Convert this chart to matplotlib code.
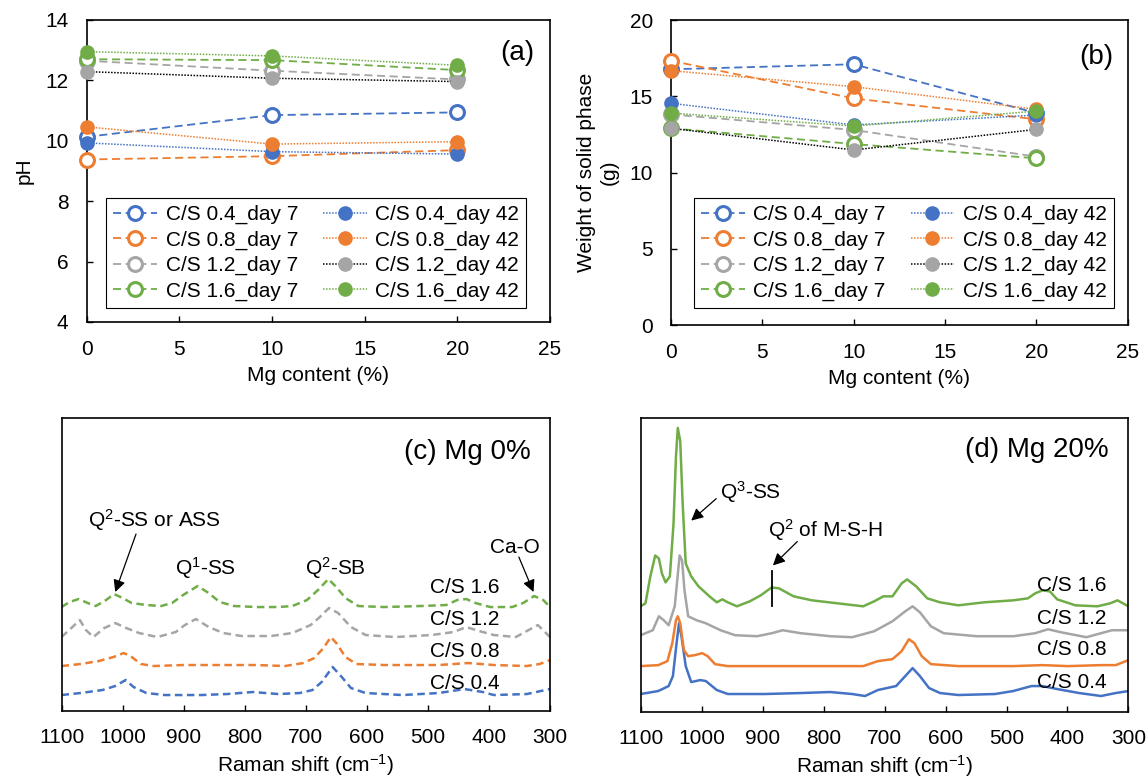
import matplotlib
matplotlib.use("Agg")
import matplotlib.pyplot as plt

plt.rcParams['font.family'] = 'Liberation Sans'
plt.rcParams['mathtext.fontset'] = 'custom'
plt.rcParams['mathtext.rm'] = 'Liberation Sans'
plt.rcParams['mathtext.it'] = 'Liberation Sans:italic'
plt.rcParams['font.size'] = 15
plt.rcParams['axes.linewidth'] = 1.2

# colours (excel palette)
blue, orange, gray, green = '#4472C4', '#ED7D31', '#A5A5A5', '#70AD47'
colors = [blue, orange, gray, green]
cs_names = ['C/S 0.4', 'C/S 0.8', 'C/S 1.2', 'C/S 1.6']

# ---- (a) pH and (b) weight of solid phase ----
mg = [0, 10, 20]

ph_d7_04 = [10.13, 10.85, 10.94]
ph_d7_08 = [9.38, 9.49, 9.69]
ph_d7_12 = [12.65, 12.32, 12.03]
ph_d7_16 = [12.70, 12.67, 12.34]
ph_d42_04 = [9.93, 9.64, 9.56]
ph_d42_08 = [10.46, 9.89, 9.97]
ph_d42_12 = [12.29, 12.07, 11.96]
ph_d42_16 = [12.95, 12.81, 12.50]

wt_d7_04 = [16.77, 17.10, 13.90]
wt_d7_08 = [17.33, 14.86, 13.49]
wt_d7_12 = [13.81, 12.79, 11.04]
wt_d7_16 = [12.90, 11.87, 10.93]
wt_d42_04 = [14.54, 13.12, 13.77]
wt_d42_08 = [16.68, 15.63, 14.14]
wt_d42_12 = [12.90, 11.48, 12.83]
wt_d42_16 = [13.90, 13.05, 14.03]

ph_d7 = [ph_d7_04, ph_d7_08, ph_d7_12, ph_d7_16]
ph_d42 = [ph_d42_04, ph_d42_08, ph_d42_12, ph_d42_16]
wt_d7 = [wt_d7_04, wt_d7_08, wt_d7_12, wt_d7_16]
wt_d42 = [wt_d42_04, wt_d42_08, wt_d42_12, wt_d42_16]
d42_line_colors = [blue, orange, 'black', green]

# ---- (c) Raman, Mg 0% ----
c16_w = [1100, 1087, 1072, 1057, 1044, 1027, 1014, 1000, 985, 961, 937, 919, 901, 877, 859, 841, 817, 781,
         745, 722, 698, 680, 663, 650, 635, 614, 572, 512, 470, 452, 437, 422, 398, 362, 344, 326, 311, 300]
c16_i = [104, 109, 112, 108, 105, 111, 117, 113, 108, 106, 105, 108, 116, 125, 118, 109, 105, 104,
         104, 105, 111, 121, 132, 124, 113, 105, 104, 105, 106, 111, 112, 108, 104, 104, 108, 115, 111, 104]
c12_w = [1100, 1084, 1070, 1060, 1048, 1030, 1012, 994, 973, 943, 913, 898, 880, 859, 835, 805, 757, 722,
         692, 677, 662, 647, 626, 602, 554, 494, 458, 437, 416, 392, 356, 335, 320, 300]
c12_i = [74, 83, 91, 81, 74, 83, 88, 83, 78, 74, 79, 86, 92, 84, 78, 75, 75, 78,
         86, 94, 103, 98, 84, 76, 74, 76, 79, 84, 80, 76, 74, 81, 86, 74]
c08_w = [1100, 1069, 1039, 1015, 998, 985, 970, 949, 901, 841, 781, 734, 704, 686, 671, 659, 650, 635,
         617, 572, 482, 434, 392, 338, 317, 300]
c08_i = [45, 47, 50, 54, 58, 54, 47, 45, 46, 46, 46, 45, 48, 53, 63, 74, 68, 54,
         47, 46, 46, 48, 46, 45, 47, 51]
c04_w = [1100, 1069, 1033, 1012, 995, 982, 961, 931, 871, 829, 787, 745, 710, 689, 674, 656, 641, 626,
         602, 542, 482, 440, 410, 392, 338, 300]
c04_i = [16, 18, 21, 25, 31, 24, 18, 16, 16, 17, 19, 17, 18, 21, 29, 44, 34, 23,
         18, 16, 18, 22, 19, 16, 17, 22]

# ---- (d) Raman, Mg 20% ----
d16_w = [1100, 1092, 1084, 1076, 1070, 1065, 1059, 1052, 1046, 1042, 1039, 1035, 1031, 1026, 1017, 1005,
         987, 975, 966, 957, 942, 921, 903, 885, 873, 849, 819, 777, 735, 717, 702, 687, 672, 663, 648,
         630, 609, 579, 537, 489, 465, 453, 441, 429, 417, 387, 351, 330, 318, 300]
d16_i = [106, 109, 136, 157, 154, 139, 130, 136, 189, 256, 285, 272, 209, 149, 136, 126,
         116, 110, 113, 110, 106, 111, 117, 125, 124, 116, 112, 109, 106, 111, 116, 116, 129, 133, 126,
         114, 110, 107, 110, 112, 114, 119, 122, 121, 113, 107, 106, 109, 112, 106]
d12_w = [1100, 1080, 1070, 1062, 1054, 1044, 1036, 1032, 1028, 1022, 1008, 993, 969, 945, 909, 885, 867,
         837, 789, 753, 717, 687, 666, 654, 642, 624, 603, 549, 489, 453, 432, 411, 369, 327, 300]
d12_i = [77, 82, 96, 92, 87, 106, 157, 152, 122, 96, 92, 89, 82, 77, 76, 79, 82,
         79, 76, 75, 81, 91, 101, 106, 100, 86, 79, 76, 76, 79, 83, 80, 75, 82, 82]
d08_w = [1100, 1071, 1056, 1048, 1042, 1039, 1035, 1029, 1022, 1011, 999, 990, 978, 957, 897, 837, 789,
         735, 711, 687, 672, 660, 651, 639, 624, 579, 489, 441, 399, 345, 321, 300]
d08_i = [46, 47, 51, 69, 92, 96, 89, 62, 56, 57, 59, 56, 48, 46, 46, 46, 46,
         46, 51, 53, 61, 73, 69, 56, 48, 46, 46, 47, 46, 47, 47, 52]
d04_w = [1100, 1071, 1054, 1047, 1041, 1037, 1033, 1026, 1017, 1002, 993, 975, 957, 897, 837, 789, 753,
         732, 711, 681, 666, 654, 642, 627, 609, 579, 519, 489, 459, 441, 417, 381, 345, 321, 300]
d04_i = [18, 21, 26, 36, 69, 89, 76, 46, 30, 32, 31, 22, 18, 18, 19, 20, 18,
         16, 22, 26, 36, 44, 36, 24, 19, 17, 18, 21, 26, 26, 23, 19, 16, 19, 21]

fig = plt.figure(figsize=(11.48, 7.77), dpi=100)
ax_a = fig.add_axes([0.0755, 0.5856, 0.4036, 0.3887])
ax_b = fig.add_axes([0.5845, 0.5817, 0.3979, 0.3925])
ax_c = fig.add_axes([0.0536, 0.0849, 0.4255, 0.3771])
ax_d = fig.add_axes([0.5580, 0.0837, 0.4250, 0.3784])


def scatter_panel(ax, d7, d42, ylim, yticks, ylabel, tag, tag_xy, leg_anchor):
    for vals, name, c in zip(d7, cs_names, colors):
        ax.plot(mg, vals, ls=(0, (4.5, 2.5)), lw=1.3, color=c, marker='o', ms=10,
                mfc='white', mec=c, mew=2.2, label=name + '_day 7', clip_on=False, zorder=3)
    for vals, name, c, lc in zip(d42, cs_names, colors, d42_line_colors):
        ax.plot(mg, vals, ls=(0, (1, 1)), lw=1.1, color=lc, marker='o', ms=9.5,
                mfc=c, mec=c, label=name + '_day 42', clip_on=False, zorder=3)
    ax.set_xlim(0, 25)
    ax.set_xticks(range(0, 26, 5))
    ax.set_ylim(*ylim)
    ax.set_yticks(yticks)
    ax.tick_params(direction='in', length=4, width=1, pad=13)
    ax.set_xlabel('Mg content (%)', labelpad=5)
    ax.set_ylabel(ylabel, labelpad=8)
    ax.text(tag_xy[0], tag_xy[1], tag, transform=ax.transAxes, ha='right', va='center', fontsize=20)
    leg = ax.legend(ncol=2, loc='lower left', bbox_to_anchor=leg_anchor, fancybox=False,
                    edgecolor='black', framealpha=1, handlelength=2.1, columnspacing=1.2,
                    labelspacing=0.3, handletextpad=0.4, borderpad=0.35, borderaxespad=0)
    leg.get_frame().set_linewidth(0.8)


scatter_panel(ax_a, ph_d7, ph_d42, (4, 14), range(4, 15, 2), 'pH', '(a)', (0.967, 0.89),
              (0.042, 0.046))
scatter_panel(ax_b, wt_d7, wt_d42, (0, 20), range(0, 21, 5), 'Weight of solid phase\n(g)', '(b)',
              (0.969, 0.88), (0.05, 0.056))


def raman_panel(ax, spectra, style, label_w, label_i, tag, tag_xy, ytop):
    for (w, i), c in zip(spectra, colors):
        ax.plot(w, i, color=c, **style)
    for name, y in zip(cs_names, label_i):
        ax.text(label_w, y, name, ha='left', va='center')
    ax.set_xlim(1100, 300)
    ax.set_xticks(range(1100, 299, -100))
    ax.set_ylim(0, ytop)
    ax.set_yticks([])
    ax.tick_params(direction='in', length=4, width=1, pad=12)
    ax.set_xlabel('Raman shift (cm$^{-1}$)', labelpad=4)
    ax.text(tag_xy[0], tag_xy[1], tag, transform=ax.transAxes, ha='right', va='center', fontsize=20)


raman_panel(ax_c, [(c04_w, c04_i), (c08_w, c08_i), (c12_w, c12_i), (c16_w, c16_i)],
            dict(lw=1.8, ls=(0, (3, 1.8))), 496, [28, 60, 92, 124], '(c) Mg 0%', (0.96, 0.884), 293)
raman_panel(ax_d, [(d04_w, d04_i), (d08_w, d08_i), (d12_w, d12_i), (d16_w, d16_i)],
            dict(lw=1.8, ls='-'), 450, [30, 63, 94, 127], '(d) Mg 20%', (0.959, 0.891), 295)

arrow = dict(arrowstyle='-|>', color='black', lw=0.9, mutation_scale=18, shrinkA=0, shrinkB=0)
ax_c.text(948, 191, 'Q$^2$-SS or ASS', ha='center', va='center')
ax_c.annotate('', xy=(1012, 119), xytext=(978, 177), arrowprops=arrow)
ax_c.text(864, 143, 'Q$^1$-SS', ha='center', va='center')
ax_c.text(652, 143, 'Q$^2$-SB', ha='center', va='center')
ax_c.text(358, 164, 'Ca-O', ha='center', va='center')
ax_c.annotate('', xy=(327, 119), xytext=(351, 154), arrowprops=arrow)

ax_d.text(970, 221, 'Q$^3$-SS', ha='left', va='center')
ax_d.annotate('', xy=(1017, 192), xytext=(976, 214), arrowprops=arrow)
ax_d.text(891, 183, 'Q$^2$ of M-S-H', ha='left', va='center')
ax_d.annotate('', xy=(883, 147), xytext=(843, 171), arrowprops=arrow)
ax_d.plot([885, 885], [106, 141], color='black', lw=1.3)

fig.savefig('out.png', dpi=100)
